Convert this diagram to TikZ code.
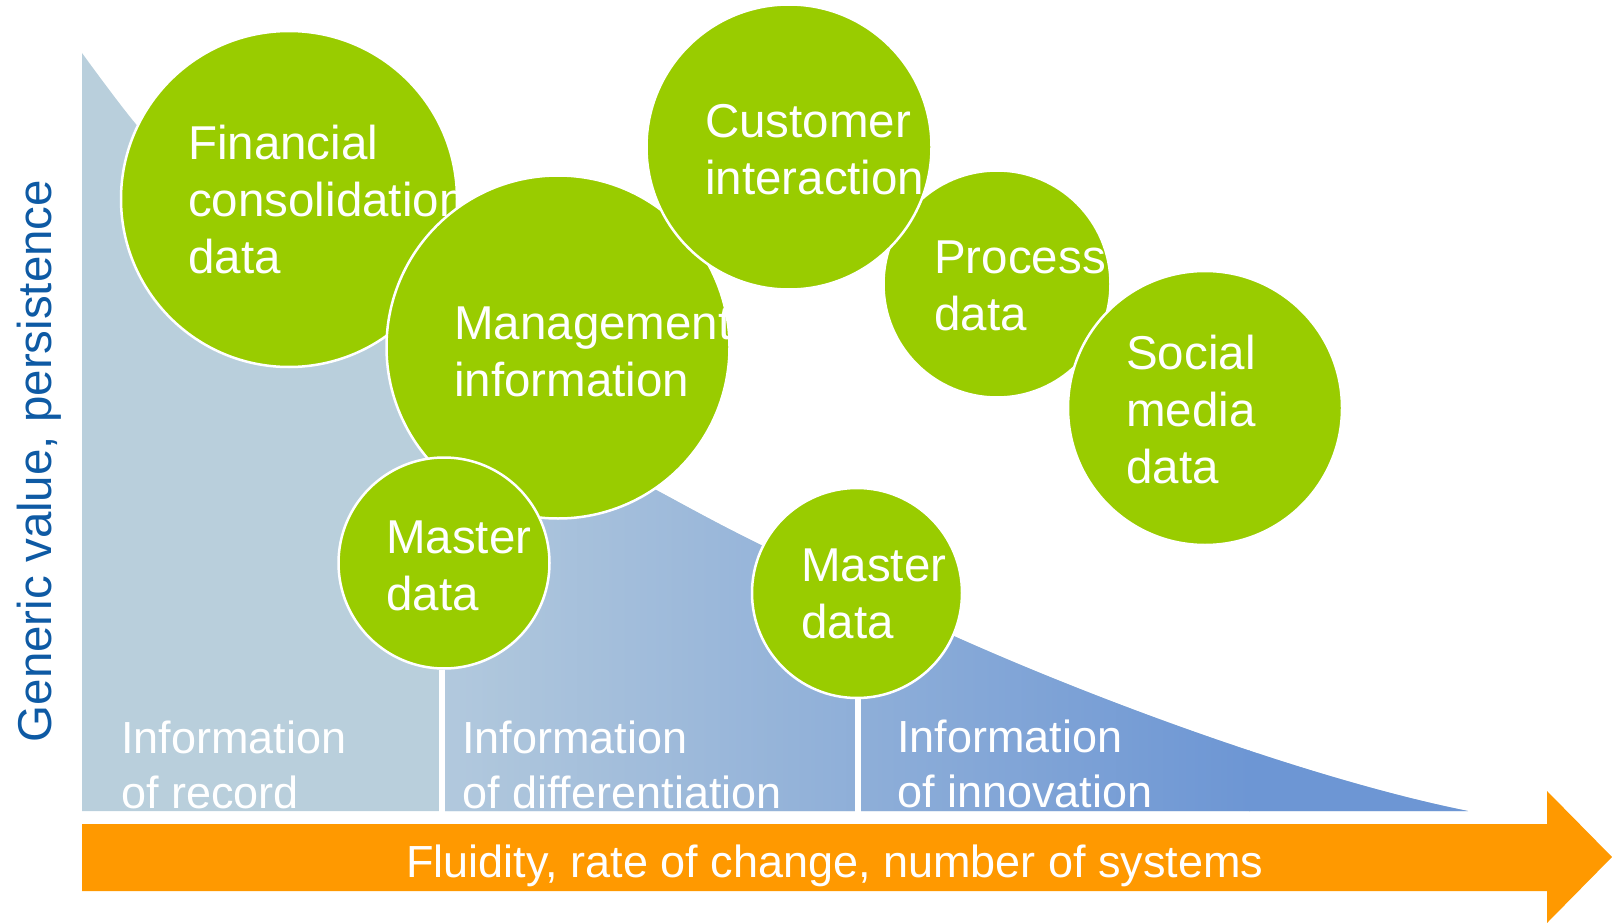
\documentclass[tikz,border=0pt]{standalone}
\usepackage{fontspec}
\setmainfont{Liberation Sans}
\definecolor{dgreen}{RGB}{153,204,0}
\definecolor{dorange}{RGB}{255,153,0}
\definecolor{axisblue}{RGB}{14,90,164}
\definecolor{fillA}{RGB}{185,207,220}
\definecolor{fillL}{RGB}{178,201,221}
\definecolor{fillB}{RGB}{109,150,212}
\begin{document}
\begin{tikzpicture}[x=1pt,y=-1pt,
  bubble/.style={circle, fill=dgreen, draw=white, line width=2.5pt, inner sep=0pt},
  btext/.style={text=white, font=\fontsize{47.5}{57}\selectfont, align=left, anchor=base west, inner sep=0pt},
  ltext/.style={text=white, font=\fontsize{45}{55}\selectfont, align=left, anchor=base west, inner sep=0pt},
  gapline/.style={draw=white, line width=6.5pt}]
\useasboundingbox (0,0) rectangle (1612,923);
% area under the curve
\fill[fillA] (82,811) -- plot[smooth, tension=0.55] coordinates {(82,53) (135,123) (200,195) (300,280) (400,347) (500,405) (600,459) (658,491) (761,545) (956,637)} .. controls (1106,704) and (1318,781) .. (1468,811) -- cycle;
\begin{scope}
  \clip (82,811) -- plot[smooth, tension=0.55] coordinates {(82,53) (135,123) (200,195) (300,280) (400,347) (500,405) (600,459) (658,491) (761,545) (956,637)} .. controls (1106,704) and (1318,781) .. (1468,811) -- cycle;
  \shade[left color=fillL, right color=fillB] (442,0) rectangle (1250,812);
  \fill[fillB] (1249,0) rectangle (1480,812);
\end{scope}
% orange axis arrow
\fill[dorange] (82,824) -- (1547,824) -- (1547,791) -- (1612,857) -- (1547,923) -- (1547,891) -- (82,891) -- cycle;
\node[text=white, font=\fontsize{45}{54}\selectfont, anchor=base, inner sep=0pt] (xlabel) at (835,877) {Fluidity, rate of change, number of systems};
% y label
\node[text=axisblue, font=\fontsize{47.5}{57}\selectfont, rotate=90, anchor=base, inner sep=0pt] (ylabel) at (51,461) {Generic value, persistence};
% bottom labels (anchored at the baseline of the last line)
\node[ltext] (rec) at (121,808) {Information\\of record};
\node[ltext] (dif) at (462,808) {Information\\of differentiation};
\node[ltext] (inn) at (897,807) {Information\\of innovation};
% bubbles
\node[bubble, minimum size=336pt] (fin) at (289,199) {};
\node[btext] (fint) at (188,273) {Financial\\consolidation\\data};
\node[bubble, minimum size=343pt] (mgmt) at (558,347) {};
\node[btext] (mgmtt) at (454,396) {Management\\information};
\node[bubble, minimum size=227pt] (proc) at (997,284) {};
\node[btext] (proct) at (934,330) {Process\\data};
\node[bubble, minimum size=285pt] (cust) at (789,147) {};
\node[btext] (custt) at (705,194) {Customer\\interaction};
\node[bubble, minimum size=274pt] (soc) at (1205,408) {};
\node[btext] (soct) at (1126,483) {Social\\media\\data};
\node[bubble, minimum size=211pt] (m1) at (444,563) {};
\node[btext] (m1t) at (386,610) {Master\\data};
\node[bubble, minimum size=210pt] (m2) at (857,593) {};
\node[btext] (m2t) at (801,638) {Master\\data};
% white separators
\coordinate (b1) at (442,812);
\coordinate (b2) at (858,812);
\draw[gapline] (b1 |- m1.south) -- (b1);
\draw[gapline] (b2 |- m2.south) -- (b2);
\end{tikzpicture}
\end{document}
